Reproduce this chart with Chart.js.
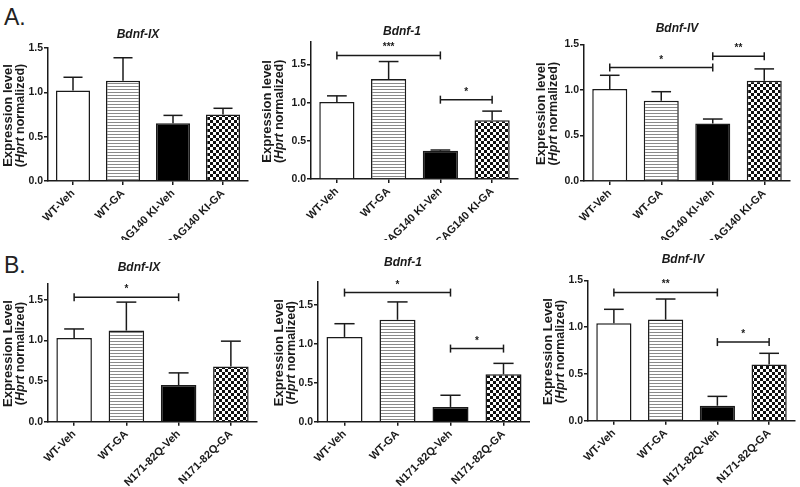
<!DOCTYPE html>
<html><head><meta charset="utf-8">
<script src="https://cdn.jsdelivr.net/npm/chart.js@4.4.0/dist/chart.umd.min.js"></script>
<style>
html,body{margin:0;padding:0;background:#fff;width:800px;height:487px;overflow:hidden;position:relative;font-family:"Liberation Sans",Arial,sans-serif}
canvas{position:absolute}
.lbl{position:absolute;font-size:23px;color:#222;line-height:1}
</style></head><body>
<div class="lbl" style="left:4px;top:6px">A.</div>
<div class="lbl" style="left:4px;top:254px">B.</div>
<canvas id="a1"></canvas><canvas id="a2"></canvas><canvas id="a3"></canvas>
<canvas id="b1"></canvas><canvas id="b2"></canvas><canvas id="b3"></canvas>
<script>
// ---- data ----
const categoriesA = ['WT-Veh', 'WT-GA', 'CAG140 KI-Veh', 'CAG140 KI-GA'];
const categoriesB = ['WT-Veh', 'WT-GA', 'N171-82Q-Veh', 'N171-82Q-GA'];
const yTickValues = [0, 0.5, 1.0, 1.5];

const a1Mean = [1.02, 1.13, 0.65, 0.75];
const a1Sem  = [0.15, 0.26, 0.09, 0.07];
const a1Sig  = [];

const a2Mean = [1.01, 1.31, 0.37, 0.77];
const a2Sem  = [0.08, 0.23, 0.01, 0.12];
const a2Sig  = [[0, 2, '***', 1.62], [2, 3, '*', 1.04]];

const a3Mean = [1.01, 0.88, 0.63, 1.10];
const a3Sem  = [0.15, 0.10, 0.05, 0.13];
const a3Sig  = [[0, 2, '*', 1.245], [2, 3, '**', 1.37]];

const b1Mean = [1.03, 1.12, 0.45, 0.68];
const b1Sem  = [0.11, 0.35, 0.15, 0.31];
const b1Sig  = [[0, 2, '*', 1.53]];

const b2Mean = [1.09, 1.31, 0.19, 0.61];
const b2Sem  = [0.17, 0.23, 0.15, 0.14];
const b2Sig  = [[0, 2, '*', 1.66], [2, 3, '*', 0.94]];

const b3Mean = [1.04, 1.08, 0.16, 0.60];
const b3Sem  = [0.15, 0.22, 0.10, 0.12];
const b3Sig  = [[0, 2, '**', 1.37], [2, 3, '*', 0.84]];

// ---- layout ----
const panels = [
  {id:'a1', x0:0,   y0:0,   w:262, h:240, left:48,  right:248, top:48,    bottom:181,   ymax:1.5, title:'Bdnf-IX', tx:138, ty:35,  yl:'Expression level', yx1:8,   yx2:21,  cats:categoriesA, mean:a1Mean, sem:a1Sem, sig:a1Sig},
  {id:'a2', x0:262, y0:0,   w:265, h:240, left:311, right:518, top:41.7,  bottom:179,   ymax:1.8, title:'Bdnf-1',  tx:402, ty:32,  yl:'Expression level', yx1:267, yx2:280, cats:categoriesA, mean:a2Mean, sem:a2Sem, sig:a2Sig},
  {id:'a3', x0:532, y0:0,   w:268, h:240, left:584, right:790, top:44.3,  bottom:181,   ymax:1.5, title:'Bdnf-IV', tx:677, ty:29,  yl:'Expression level', yx1:541, yx2:554, cats:categoriesA, mean:a3Mean, sem:a3Sem, sig:a3Sig},
  {id:'b1', x0:0,   y0:240, w:262, h:247, left:48,  right:257, top:283.4, bottom:421.7, ymax:1.7, title:'Bdnf-IX', tx:139, ty:268, yl:'Expression Level', yx1:8,   yx2:21,  cats:categoriesB, mean:b1Mean, sem:b1Sem, sig:b1Sig},
  {id:'b2', x0:262, y0:240, w:268, h:247, left:318, right:530, top:281.7, bottom:421.7, ymax:1.8, title:'Bdnf-1',  tx:403, ty:263, yl:'Expression Level', yx1:279, yx2:292, cats:categoriesB, mean:b2Mean, sem:b2Sem, sig:b2Sig},
  {id:'b3', x0:532, y0:240, w:268, h:247, left:588, right:795, top:280.3, bottom:420.7, ymax:1.5, title:'Bdnf-IV', tx:683, ty:260, yl:'Expression Level', yx1:548, yx2:561, cats:categoriesB, mean:b3Mean, sem:b3Sem, sig:b3Sig},
];

const INK = '#1a1a1a';
const FONT = '"Liberation Sans", Arial, sans-serif';

function makeStripes() {
  const c = document.createElement('canvas'); c.width = 6; c.height = 3;
  const g = c.getContext('2d');
  g.fillStyle = '#fff'; g.fillRect(0, 0, 6, 3);
  g.fillStyle = '#8a8a8a'; g.fillRect(0, 2, 6, 1);
  return c;
}
function makeChecker() {
  const c = document.createElement('canvas'); c.width = 6; c.height = 6;
  const g = c.getContext('2d');
  g.fillStyle = '#fff'; g.fillRect(0, 0, 6, 6);
  g.fillStyle = '#111'; g.fillRect(0, 0, 3, 3); g.fillRect(3, 3, 3, 3);
  return c;
}

const annot = {
  id: 'annot',
  afterDatasetsDraw(chart, args, o) {
    const ctx = chart.ctx, xs = chart.scales.x, ys = chart.scales.y;
    const meta = chart.getDatasetMeta(0);
    ctx.save();
    ctx.strokeStyle = INK; ctx.lineWidth = 1.5; ctx.lineCap = 'butt';
    const line = (x1, y1, x2, y2) => { ctx.beginPath(); ctx.moveTo(x1, y1); ctx.lineTo(x2, y2); ctx.stroke(); };
    o.p.sem.forEach((s, i) => {
      const bar = meta.data[i];
      const cx = bar.x;
      const yTop = ys.getPixelForValue(o.p.mean[i]);
      const yErr = ys.getPixelForValue(o.p.mean[i] + s);
      const half = bar.width * 0.28;
      line(cx, yTop, cx, yErr);
      line(cx - half, yErr, cx + half, yErr);
    });
    ctx.fillStyle = INK;
    ctx.font = 'bold 10px ' + FONT;
    ctx.textAlign = 'center'; ctx.textBaseline = 'alphabetic';
    o.p.sig.forEach(([i, j, txt, v]) => {
      const yy = ys.getPixelForValue(v);
      const xi = xs.getPixelForValue(i), xj = xs.getPixelForValue(j);
      line(xi, yy, xj, yy);
      line(xi, yy - 4, xi, yy + 4);
      line(xj, yy - 4, xj, yy + 4);
      ctx.fillText(txt, (xi + xj) / 2, yy - 5);
    });
    ctx.restore();
  },
  afterDraw(chart, args, o) {
    const p = o.p, ctx = chart.ctx, ca = chart.chartArea;
    ctx.save();
    ctx.fillStyle = INK;
    ctx.textAlign = 'center'; ctx.textBaseline = 'middle';
    ctx.font = 'italic bold 12px ' + FONT;
    ctx.fillText(p.title, p.tx - p.x0, p.ty - p.y0);
    // y title (rotated, two lines)
    const cy = (ca.top + ca.bottom) / 2 + 1;
    ctx.translate(0, cy);
    ctx.rotate(-Math.PI / 2);
    ctx.font = 'bold 13px ' + FONT;
    ctx.fillText(p.yl, 0, p.yx1 - p.x0);
    const parts = [['(', 'bold 12.5px '], ['Hprt', 'italic bold 12.5px '], [' normalized)', 'bold 12.5px ']];
    let total = 0;
    parts.forEach(([t, f]) => { ctx.font = f + FONT; total += ctx.measureText(t).width; });
    let x = -total / 2;
    ctx.textAlign = 'left';
    parts.forEach(([t, f]) => { ctx.font = f + FONT; ctx.fillText(t, x, p.yx2 - p.x0); x += ctx.measureText(t).width; });
    ctx.restore();
  }
};

const stripe = makeStripes(), checker = makeChecker();

panels.forEach(p => {
  const cv = document.getElementById(p.id);
  cv.width = p.w; cv.height = p.h;
  cv.style.left = p.x0 + 'px'; cv.style.top = p.y0 + 'px';
  cv.style.width = p.w + 'px'; cv.style.height = p.h + 'px';
  const g = cv.getContext('2d');
  const fills = ['#ffffff', g.createPattern(stripe, 'repeat'), '#000000', g.createPattern(checker, 'repeat')];
  new Chart(cv, {
    type: 'bar',
    data: {
      labels: p.cats,
      datasets: [{
        data: p.mean,
        backgroundColor: fills,
        borderColor: INK,
        borderWidth: 1.5,
        borderSkipped: 'start',
        categoryPercentage: 1,
        barPercentage: 0.68
      }]
    },
    options: {
      responsive: false,
      animation: false,
      devicePixelRatio: 1,
      events: [],
      layout: { padding: { left: 0, top: p.top - p.y0, right: p.x0 + p.w - p.right, bottom: 0 } },
      plugins: { legend: { display: false }, tooltip: { enabled: false }, title: { display: false }, annot: { p } },
      scales: {
        x: {
          z: 1,
          offset: true,
          grid: { offset: false, drawOnChartArea: false, drawTicks: true, tickLength: 4, color: INK, lineWidth: 1.5 },
          border: { display: true, color: INK, width: 1.5 },
          ticks: { minRotation: 45, maxRotation: 45, autoSkip: false, padding: 2, color: INK, font: { family: FONT, size: 11, weight: 'bold' } },
          afterFit: s => { s.height = p.y0 + p.h - p.bottom; }
        },
        y: {
          z: 1,
          min: 0, max: p.ymax,
          afterBuildTicks: s => { s.ticks = yTickValues.map(v => ({ value: v })); },
          grid: { drawOnChartArea: false, drawTicks: true, tickLength: 4, color: INK, lineWidth: 1.5 },
          border: { display: true, color: INK, width: 1.5 },
          ticks: { padding: 1, color: INK, font: { family: FONT, size: 10.5, weight: 'bold' }, callback: v => Number(v).toFixed(1) },
          afterFit: s => { s.width = p.left - p.x0; }
        }
      }
    },
    plugins: [annot]
  });
});
</script>
</body></html>
